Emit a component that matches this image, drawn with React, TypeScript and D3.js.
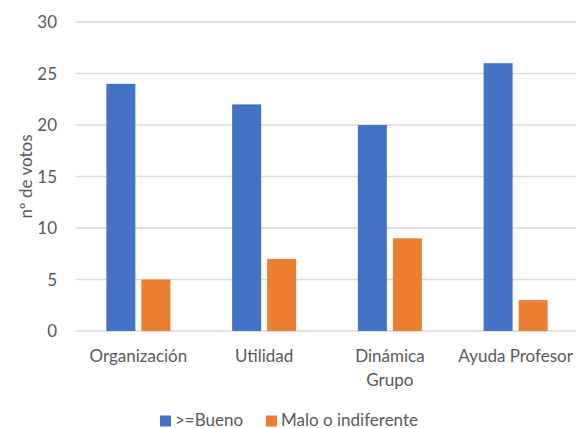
import React from "react";
import * as d3 from "d3";

const categories = ["Organización", "Utilidad", "Dinámica Grupo", "Ayuda Profesor"];
// category labels as Excel wraps them
const categoryLines = [["Organización"], ["Utilidad"], ["Dinámica", "Grupo"], ["Ayuda Profesor"]];
const seriesNames = [">=Bueno", "Malo o indiferente"];
const buenoValues = [24, 22, 20, 26];
const maloValues = [5, 7, 9, 3];
const yTicks = [0, 5, 10, 15, 20, 25, 30];
const yTitle = "nº de votos";

const colors = ["#4472C4", "#ED7D31"];
const textColor = "#595959";
const font = "Lato, 'Open Sans', sans-serif";

const App = () => {
  const width = 576;
  const height = 428;

  const x = d3.scaleBand<string>().domain(categories).range([75.5, 578.5]);
  const xSub = d3
    .scaleBand<string>()
    .domain(seriesNames)
    .range([0, 64])
    .paddingInner(6 / 35);
  const groupOffset = (x.bandwidth() - 64) / 2;

  const y = d3.scaleLinear().domain([0, 30]).range([331, 22]);

  const series = [buenoValues, maloValues];

  return (
    <svg
      width={width}
      height={height}
      style={{ position: "absolute", left: 0, top: 0, background: "#fff" }}
      fontFamily={font}
    >
      {/* gridlines */}
      {yTicks.map((t) => (
        <line
          key={t}
          x1={x.range()[0]}
          x2={x.range()[1]}
          y1={y(t)}
          y2={y(t)}
          stroke="#D9D9D9"
          strokeWidth={1.5}
        />
      ))}
      {/* tick labels */}
      {yTicks.map((t) => (
        <text
          key={"l" + t}
          x={57}
          y={y(t)}
          dy="0.36em"
          textAnchor="end"
          fontSize={17}
          fill={textColor}
        >
          {t}
        </text>
      ))}
      {/* bars */}
      {series.map((vals, si) =>
        vals.map((v, i) => (
          <rect
            key={si + "-" + i}
            x={(x(categories[i]) as number) + groupOffset + (xSub(seriesNames[si]) as number)}
            y={y(v)}
            width={xSub.bandwidth()}
            height={y(0) - y(v)}
            fill={colors[si]}
          />
        ))
      )}
      {/* category labels */}
      {categories.map((c, i) => (
        <text
          key={c}
          x={(x(c) as number) + x.bandwidth() / 2}
          y={362}
          textAnchor="middle"
          fontSize={17}
          fill={textColor}
        >
          {categoryLines[i].map((ln, j) => (
            <tspan key={j} x={(x(c) as number) + x.bandwidth() / 2} dy={j === 0 ? 0 : 24}>
              {ln}
            </tspan>
          ))}
        </text>
      ))}
      {/* y title */}
      <text
        transform={`translate(32,${(y(0) + y(30)) / 2}) rotate(-90)`}
        textAnchor="middle"
        fontSize={17}
        fill={textColor}
      >
        {yTitle}
      </text>
      {/* legend */}
      {seriesNames.map((s, i) => {
        const lx = [160, 266][i];
        return (
          <g key={s}>
            <rect x={lx} y={415.5} width={11} height={11} fill={colors[i]} />
            <text x={lx + 15} y={425.5} fontSize={17} fill={textColor}>
              {s}
            </text>
          </g>
        );
      })}
    </svg>
  );
};

export default App;
